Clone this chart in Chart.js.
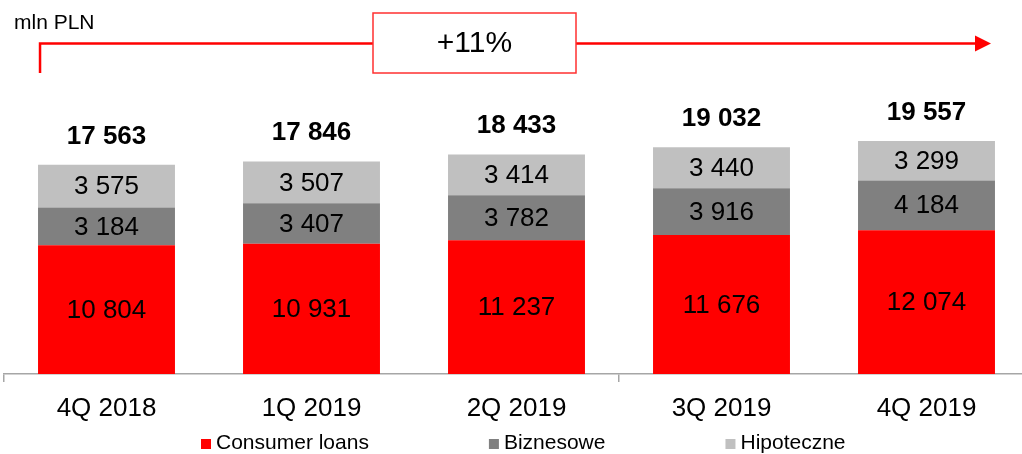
<!DOCTYPE html>
<html>
<head>
<meta charset="utf-8">
<script src="https://cdn.jsdelivr.net/npm/chart.js@4.4.1/dist/chart.umd.min.js"></script>
<style>
  html, body { margin: 0; padding: 0; background: #fff; overflow: hidden; }
  #wrap { width: 1030px; height: 454px; }
</style>
</head>
<body>
<div id="wrap"><canvas id="loans"></canvas></div>
<script>
const quarters = ["4Q 2018", "1Q 2019", "2Q 2019", "3Q 2019", "4Q 2019"];
const consumerLoans = [10804, 10931, 11237, 11676, 12074];
const biznesowe = [3184, 3407, 3782, 3916, 4184];
const hipoteczne = [3575, 3507, 3414, 3440, 3299];
const totals = [17563, 17846, 18433, 19032, 19557];
const growthLabel = "+11%";
const unitLabel = "mln PLN";

const FONT = '"Liberation Sans", Arial, sans-serif';

function formatPl(value) {
  return String(value).replace(/\B(?=(\d{3})+(?!\d))/g, " ");
}

// numbers inside each segment and the stack totals above
const valueLabels = {
  id: "valueLabels",
  afterDatasetsDraw(chart) {
    const ctx = chart.ctx;
    ctx.save();
    ctx.textAlign = "center";
    ctx.textBaseline = "middle";
    ctx.fillStyle = "#000";
    ctx.font = `26px ${FONT}`;
    chart.data.datasets.forEach((dataset, i) => {
      chart.getDatasetMeta(i).data.forEach((bar, j) => {
        const { x, y, base } = bar.getProps(["x", "y", "base"], true);
        ctx.fillText(formatPl(dataset.data[j]), x, (y + base) / 2 + 1);
      });
    });
    const topMeta = chart.getDatasetMeta(chart.data.datasets.length - 1);
    ctx.font = `bold 26px ${FONT}`;
    topMeta.data.forEach((bar, j) => {
      const { x, y } = bar.getProps(["x", "y"], true);
      ctx.fillText(formatPl(totals[j]), x, y - 28.5);
    });
    ctx.restore();
  },
};

// unit caption and the growth arrow over the bars
const growthArrow = {
  id: "growthArrow",
  afterDraw(chart) {
    const ctx = chart.ctx;
    const bars = chart.getDatasetMeta(0).data;
    const first = bars[0].getProps(["x", "width"], true);
    const last = bars[bars.length - 1].getProps(["x", "width"], true);
    const startX = first.x - first.width / 2 + 2;
    const tipX = last.x + last.width / 2 - 4;
    const lineY = 43.5;
    const box = { left: 373, top: 13, width: 203, height: 60 };

    ctx.save();
    ctx.fillStyle = "#000";
    ctx.font = `21px ${FONT}`;
    ctx.textAlign = "left";
    ctx.textBaseline = "alphabetic";
    ctx.fillText(unitLabel, 14, 29);

    ctx.strokeStyle = "#ff0000";
    ctx.lineWidth = 2.5;
    ctx.beginPath();
    ctx.moveTo(startX, 73);
    ctx.lineTo(startX, lineY);
    ctx.lineTo(box.left, lineY);
    ctx.moveTo(box.left + box.width, lineY);
    ctx.lineTo(tipX - 14, lineY);
    ctx.stroke();

    ctx.fillStyle = "#ff0000";
    ctx.beginPath();
    ctx.moveTo(tipX, lineY);
    ctx.lineTo(tipX - 16, lineY - 8);
    ctx.lineTo(tipX - 16, lineY + 8);
    ctx.closePath();
    ctx.fill();

    ctx.strokeStyle = "#ff3030";
    ctx.lineWidth = 1.5;
    ctx.strokeRect(box.left, box.top, box.width, box.height);

    ctx.fillStyle = "#000";
    ctx.font = `30px ${FONT}`;
    ctx.textAlign = "center";
    ctx.textBaseline = "middle";
    ctx.fillText(growthLabel, box.left + box.width / 2, box.top + box.height / 2 + 1);
    ctx.restore();
  },
};

// legend row under the axis labels
const bottomLegend = {
  id: "bottomLegend",
  afterDraw(chart) {
    const ctx = chart.ctx;
    const gap = 120;
    let x = 201;
    const y = 443;
    ctx.save();
    ctx.font = `21px ${FONT}`;
    ctx.textBaseline = "middle";
    ctx.textAlign = "left";
    chart.data.datasets.forEach((dataset) => {
      ctx.fillStyle = dataset.backgroundColor;
      ctx.fillRect(x, y - 4, 10, 10);
      ctx.fillStyle = "#000";
      ctx.fillText(dataset.label, x + 15, y);
      x += 15 + ctx.measureText(dataset.label).width + gap;
    });
    ctx.restore();
  },
};

new Chart(document.getElementById("loans"), {
  type: "bar",
  data: {
    labels: quarters,
    datasets: [
      { label: "Consumer loans", data: consumerLoans, backgroundColor: "#ff0000" },
      { label: "Biznesowe", data: biznesowe, backgroundColor: "#808080" },
      { label: "Hipoteczne", data: hipoteczne, backgroundColor: "#c0c0c0" },
    ],
  },
  options: {
    responsive: true,
    maintainAspectRatio: false,
    animation: false,
    events: [],
    datasets: {
      bar: {
        barPercentage: 0.668,
        categoryPercentage: 1,
        borderWidth: 0,
      },
    },
    layout: {
      padding: { top: 64.4, left: 4, right: 1, bottom: 17.8 },
    },
    plugins: {
      legend: { display: false },
      tooltip: { enabled: false },
    },
    scales: {
      x: {
        stacked: true,
        offset: true,
        grid: {
          display: true,
          offset: true,
          drawOnChartArea: false,
          drawTicks: true,
          tickLength: 8,
          lineWidth: 1.5,
          color: (ctx) => (ctx.index % 3 === 0 ? "#a6a6a6" : "rgba(0,0,0,0)"),
        },
        border: { display: true, color: "#a6a6a6", width: 1.5 },
        ticks: {
          color: "#000",
          font: { size: 26, family: FONT },
          padding: 11.5,
          maxRotation: 0,
          autoSkip: false,
        },
      },
      y: {
        stacked: true,
        display: false,
        min: 0,
        max: 26000,
      },
    },
  },
  plugins: [valueLabels, growthArrow, bottomLegend],
});
</script>
</body>
</html>
